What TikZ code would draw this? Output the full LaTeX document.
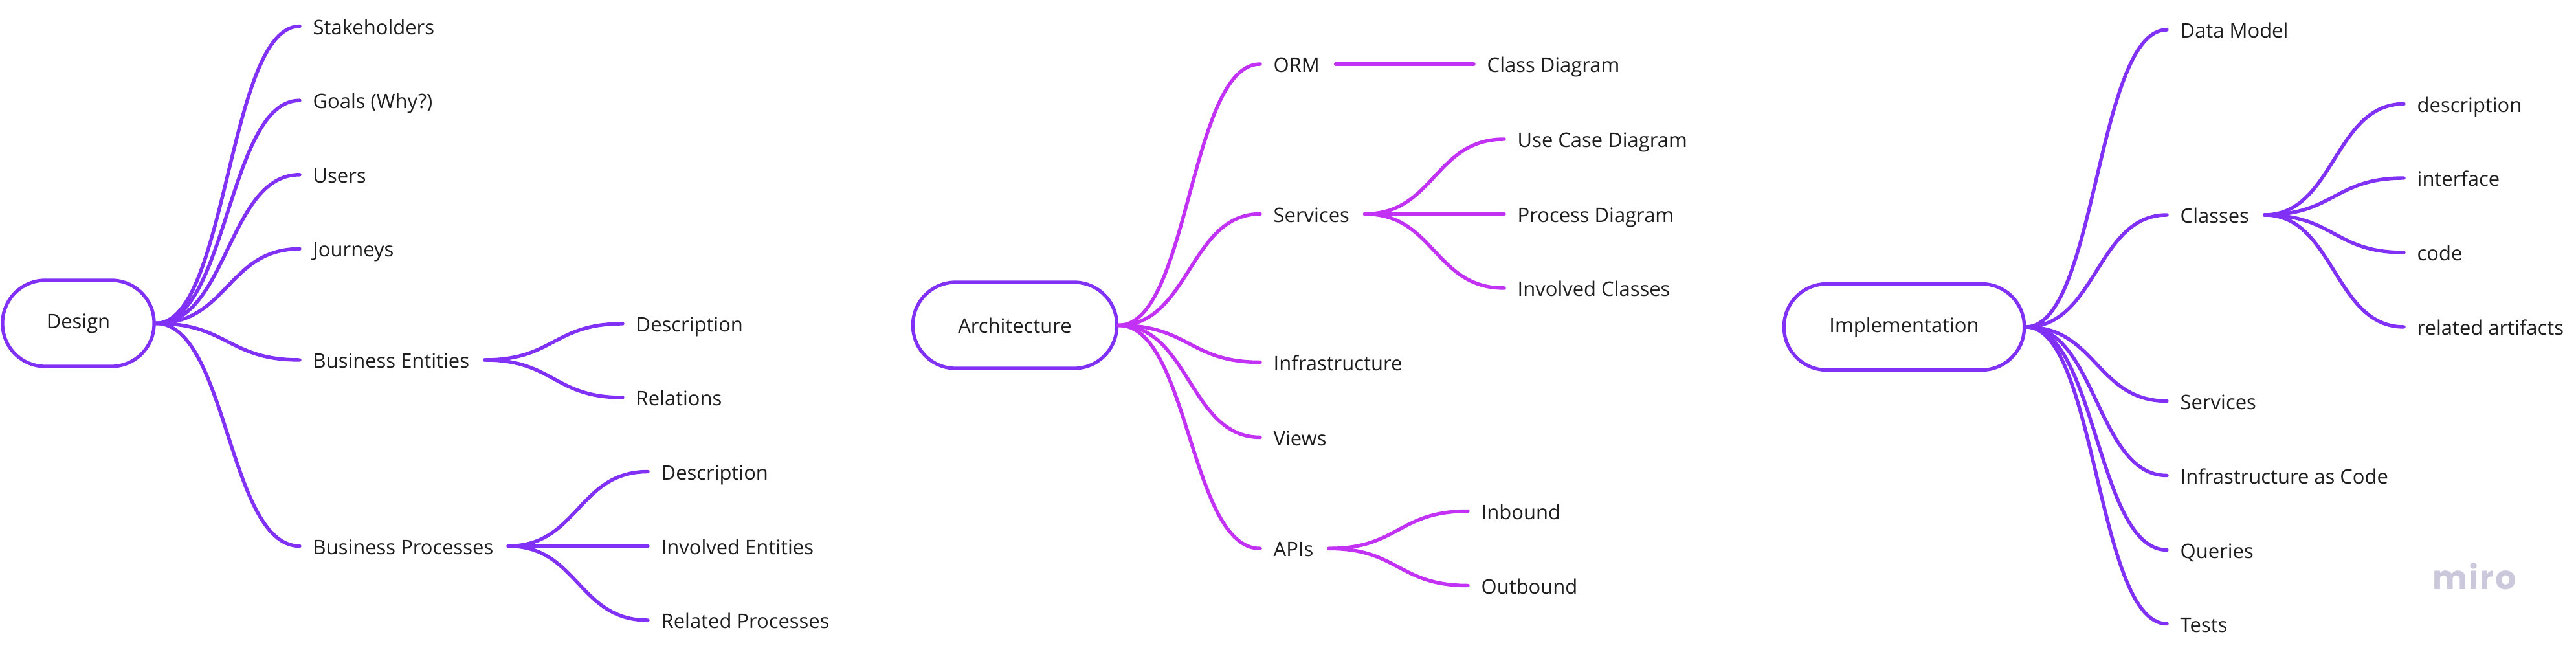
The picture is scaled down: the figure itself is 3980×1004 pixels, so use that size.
\documentclass[tikz,border=0pt]{standalone}
\usepackage{fontspec}
\setmainfont{Open Sans}
\newfontfamily\mirofont[LetterSpace=4]{Poppins}
\usetikzlibrary{calc}
\definecolor{vio}{HTML}{8130F5}
\definecolor{mag}{HTML}{C232F5}
\definecolor{txt}{HTML}{1E1E1E}
\definecolor{mirogray}{HTML}{CAC8DA}
\begin{document}
\begin{tikzpicture}[x=0.01cm,y=-0.01cm,
  lbl/.style={anchor=west, inner sep=0pt, text height=0.714em, text depth=0pt,
    font=\fontsize{8.8}{10}\selectfont, text=txt},
  root/.style={draw=vio, line width=1.5pt, fill=white, rounded corners=0.66cm,
    minimum height=1.33cm, inner sep=0pt,
    font=\fontsize{8.8}{10}\selectfont, text=txt},
  br/.style={line width=1.55pt, line cap=round,
    to path={let \p1=(\tikztostart), \p2=(\tikztotarget) in
      .. controls ({(\x1+\x2)/2},\y1) and ({(\x1+\x2)/2},\y2) .. (\tikztotarget)}},
]
\useasboundingbox (0,0) rectangle (3980,1004);
\fill[white] (0,0) rectangle (3980,1004);

% ---------- Design ----------
\node[root, minimum width=2.34cm] (design) at (121,499.5) {Design};
\node[lbl] (stake) at (483,40.6) {Stakeholders};
\node[lbl] (goals) at (483,155.2) {Goals (Why?)};
\node[lbl] (users) at (483,269.8) {Users};
\node[lbl] (journ) at (483,384.4) {Journeys};
\node[lbl] (bent) at (483,556) {Business Entities};
\node[lbl] (bproc) at (483,843.5) {Business Processes};
\node[lbl] (bedesc) at (982,500) {Description};
\node[lbl] (berel) at (982,614) {Relations};
\node[lbl] (bpdesc) at (1021,728.5) {Description};
\node[lbl] (bpinv) at (1021,843.5) {Involved Entities};
\node[lbl] (bprel) at (1021,958) {Related Processes};

\foreach \c in {stake,goals,users,journ,bent,bproc}
  \draw[br,vio] (design.east) to ([xshift=-0.2cm]\c.west);
\foreach \c in {bedesc,berel}
  \draw[br,vio] ([xshift=0.23cm]bent.east) to ([xshift=-0.2cm]\c.west);
\foreach \c in {bpdesc,bpinv,bprel}
  \draw[br,vio] ([xshift=0.22cm]bproc.east) to ([xshift=-0.2cm]\c.west);

% ---------- Architecture ----------
\node[root, minimum width=3.15cm] (arch) at (1568,502.5) {Architecture};
\node[lbl] (orm) at (1967,99) {ORM};
\node[lbl] (serv) at (1967,330.5) {Services};
\node[lbl] (infra) at (1967,559.5) {Infrastructure};
\node[lbl] (views) at (1967,675.5) {Views};
\node[lbl] (apis) at (1967,847.3) {APIs};
\node[lbl] (classd) at (2297,99) {Class Diagram};
\node[lbl] (usecase) at (2344,215) {Use Case Diagram};
\node[lbl] (procd) at (2344,330.5) {Process Diagram};
\node[lbl] (invcl) at (2344,445) {Involved Classes};
\node[lbl] (inb) at (2288,789.5) {Inbound};
\node[lbl] (outb) at (2288,904.5) {Outbound};

\foreach \c in {orm,serv,infra,views,apis}
  \draw[br,mag] (arch.east) to ([xshift=-0.2cm]\c.west);
\draw[br,mag] ([xshift=0.24cm]orm.east) to ([xshift=-0.2cm]classd.west);
\foreach \c in {usecase,procd,invcl}
  \draw[br,mag] ([xshift=0.23cm]serv.east) to ([xshift=-0.2cm]\c.west);
\foreach \c in {inb,outb}
  \draw[br,mag] ([xshift=0.23cm]apis.east) to ([xshift=-0.2cm]\c.west);

% ---------- Implementation ----------
\node[root, minimum width=3.71cm] (impl) at (2942,505) {Implementation};
\node[lbl] (dmodel) at (3368,46) {Data Model};
\node[lbl] (classes) at (3368,332) {Classes};
\node[lbl] (iserv) at (3368,619.5) {Services};
\node[lbl] (iac) at (3368,734.5) {Infrastructure as Code};
\node[lbl] (queries) at (3368,849.5) {Queries};
\node[lbl] (tests) at (3368,963.5) {Tests};
\node[lbl] (desc) at (3734,160.5) {description};
\node[lbl] (iface) at (3734,275) {interface};
\node[lbl] (code) at (3734,390) {code};
\node[lbl] (relart) at (3734,505) {related artifacts};

\foreach \c in {dmodel,classes,iserv,iac,queries,tests}
  \draw[br,vio] (impl.east) to ([xshift=-0.2cm]\c.west);
\foreach \c in {desc,iface,code,relart}
  \draw[br,vio] ([xshift=0.23cm]classes.east) to ([xshift=-0.2cm]\c.west);

% ---------- watermark ----------
\node[inner sep=0pt, text=mirogray, font=\mirofont\bfseries\fontsize{14.5}{17}\selectfont]
  (miro) at (3823,890) {miro};
\end{tikzpicture}
\end{document}
